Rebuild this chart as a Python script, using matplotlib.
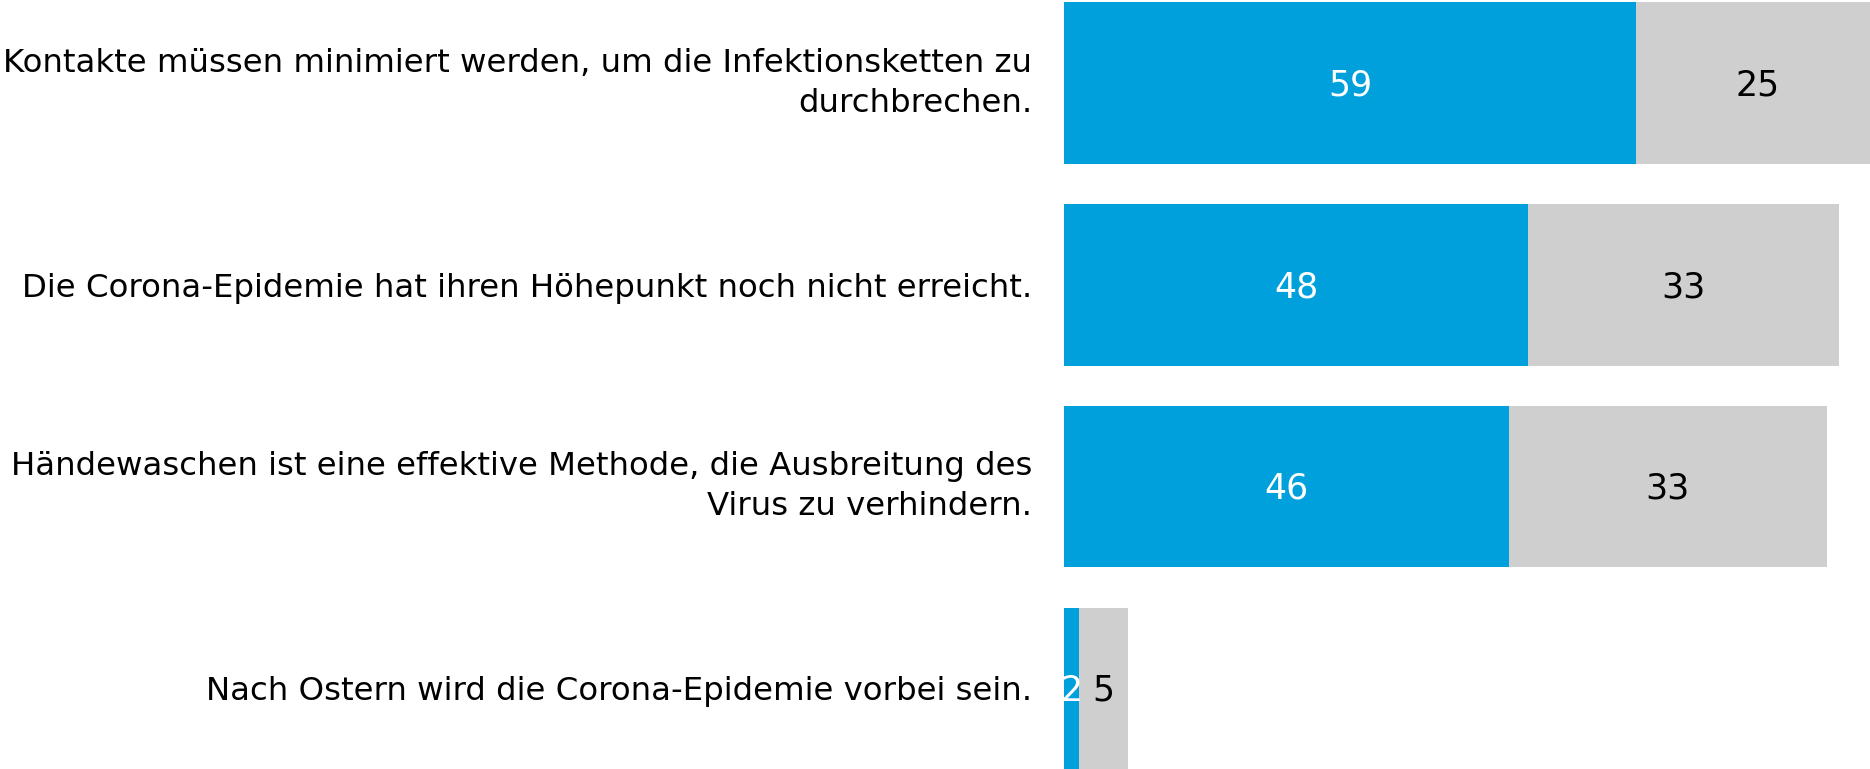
import matplotlib
matplotlib.use('Agg')
from matplotlib import pyplot as plt
import numpy as np

categories = [
    'Kontakte müssen minimiert werden, um die Infektionsketten zu\ndurchbrechen.',
    'Die Corona-Epidemie hat ihren Höhepunkt noch nicht erreicht.',
    'Händewaschen ist eine effektive Methode, die Ausbreitung des\nVirus zu verhindern.',
    'Nach Ostern wird die Corona-Epidemie vorbei sein.',
]
# bar lengths, printed labels as shown
blue_vals = [59.3, 48.1, 46.1, 1.6]
gray_vals = [25.0, 32.2, 32.9, 5.0]
blue_labels = ['59', '48', '46', '2']
gray_labels = ['25', '33', '33', '5']

blue = '#00A0DC'
gray = '#CFCFCF'

plt.rcParams['font.family'] = ['DejaVu Sans']

fig = plt.figure(figsize=(18.7, 7.69), dpi=100)
ax = fig.add_axes([1064 / 1870, 0, 1 - 1064 / 1870, 1])

y = np.arange(len(categories))
ax.barh(y, blue_vals, height=0.8, color=blue)
ax.barh(y, gray_vals, left=blue_vals, height=0.8, color=gray)

for i in range(len(categories)):
    ax.text(blue_vals[i] / 2, y[i] + 0.012, blue_labels[i], color='white',
            ha='center', va='center', fontsize=25)
    ax.text(blue_vals[i] + gray_vals[i] / 2, y[i] + 0.012, gray_labels[i],
            color='black', ha='center', va='center', fontsize=25)

ax.set_xlim(0, 83.5)
ax.set_ylim(3.4, -0.412)
ax.set_yticks(y)
ax.set_yticklabels(categories, fontsize=23.3, linespacing=1.38)
for lab in ax.get_yticklabels():
    if '\n' in lab.get_text():
        lab.set_va('center')
ax.tick_params(axis='y', length=0, pad=23)
ax.set_xticks([])
for s in ax.spines.values():
    s.set_visible(False)

plt.savefig('out.png')
